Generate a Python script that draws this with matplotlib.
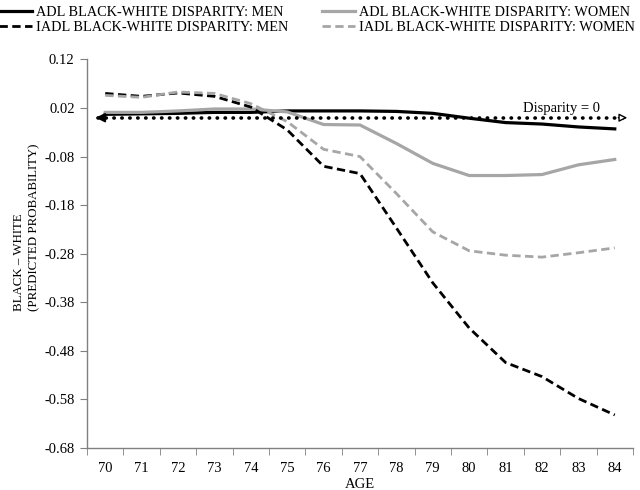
import numpy as np
import matplotlib
matplotlib.use("Agg")
import matplotlib.pyplot as plt

plt.rcParams['font.family'] = ['Liberation Serif', 'DejaVu Serif']

ages = [70, 71, 72, 73, 74, 75, 76, 77, 78, 79, 80, 81, 82, 83, 84]
adl_men = [0.007, 0.008, 0.009, 0.011, 0.011, 0.014, 0.014, 0.014, 0.013, 0.009,
           -0.001, -0.010, -0.013, -0.019, -0.023]
adl_women = [0.011, 0.011, 0.014, 0.018, 0.018, 0.012, -0.014, -0.015, -0.053, -0.094,
             -0.119, -0.119, -0.117, -0.097, -0.086]
iadl_men = [0.050, 0.044, 0.051, 0.044, 0.022, -0.025, -0.100, -0.115, -0.227, -0.340,
            -0.433, -0.504, -0.533, -0.578, -0.612]
iadl_women = [0.046, 0.042, 0.053, 0.050, 0.029, -0.008, -0.065, -0.080, -0.156, -0.235,
              -0.274, -0.283, -0.287, -0.278, -0.268]
yticks = [0.12, 0.02, -0.08, -0.18, -0.28, -0.38, -0.48, -0.58, -0.68]

grey = '#a6a6a6'
fig = plt.figure(figsize=(6.4, 4.9), dpi=100)
ax = fig.add_axes([0.136, 0.0857, 0.853, 0.793])

x = np.arange(len(ages))
l1, = ax.plot(x, adl_men, color='black', lw=2.3, label='ADL BLACK-WHITE DISPARITY: MEN')
l3, = ax.plot(x, adl_women, color=grey, lw=2.3, label='ADL BLACK-WHITE DISPARITY: WOMEN')
l2, = ax.plot(x, iadl_men, color='black', lw=2, dashes=(3, 1.6), label='IADL BLACK-WHITE DISPARITY: MEN')
l4, = ax.plot(x, iadl_women, color=grey, lw=2, dashes=(3, 1.6), label='IADL BLACK-WHITE DISPARITY: WOMEN')

# disparity = 0 reference arrow
x0, x1 = -0.34, 14.42
ax.plot([x0 + 0.15, x1 - 0.15], [0, 0], color='black', lw=2.6, ls=(0, (0.1, 2.1)),
        dash_capstyle='round')
ax.annotate('', xy=(x0, 0), xytext=(x0 + 0.4, 0),
            arrowprops=dict(arrowstyle='-|>', color='black', lw=1.2, mutation_scale=14))
ax.annotate('', xy=(x1, 0), xytext=(x1 - 0.4, 0),
            arrowprops=dict(arrowstyle='-|>', color='black', lw=1.0, mutation_scale=12, fc='white'))
ax.text(12.55, 0.006, 'Disparity = 0', ha='center', va='bottom', fontsize=10.5)

ax.set_xlim(-0.5, 14.5)
ax.set_ylim(-0.68, 0.12)
ax.set_yticks(yticks)
ax.set_yticklabels([f'{v:.2f}' for v in yticks])
ax.set_xticks(x)
ax.set_xticklabels([str(a) for a in ages])
ax.set_xticks(np.arange(-0.5, 15, 1), minor=True)
ax.tick_params(axis='x', which='major', length=0, pad=10, labelsize=10.5)
ax.tick_params(axis='x', which='minor', length=5, color='#808080', direction='out')
ax.tick_params(axis='y', length=5, color='#808080', labelsize=10.5, pad=4)
for s in ['top', 'right']:
    ax.spines[s].set_visible(False)
for s in ['left', 'bottom']:
    ax.spines[s].set_color('#808080')
    ax.spines[s].set_linewidth(1)

ax.set_xlabel('AGE', fontsize=10.5, labelpad=2)
fig.text(0.042, 0.365, 'BLACK \u2013 WHITE\n(PREDICTED PROBABILITY)', rotation=90,
         ha='center', va='bottom', multialignment='left', fontsize=9.3, linespacing=1.35)

fig.legend(handles=[l1, l2, l3, l4], loc='upper left', bbox_to_anchor=(-0.021, 1.015),
           ncol=2, frameon=False, fontsize=10.3, handlelength=2.25, handletextpad=0.3,
           columnspacing=2.4, labelspacing=0.2)

fig.savefig('out.png', dpi=100)
